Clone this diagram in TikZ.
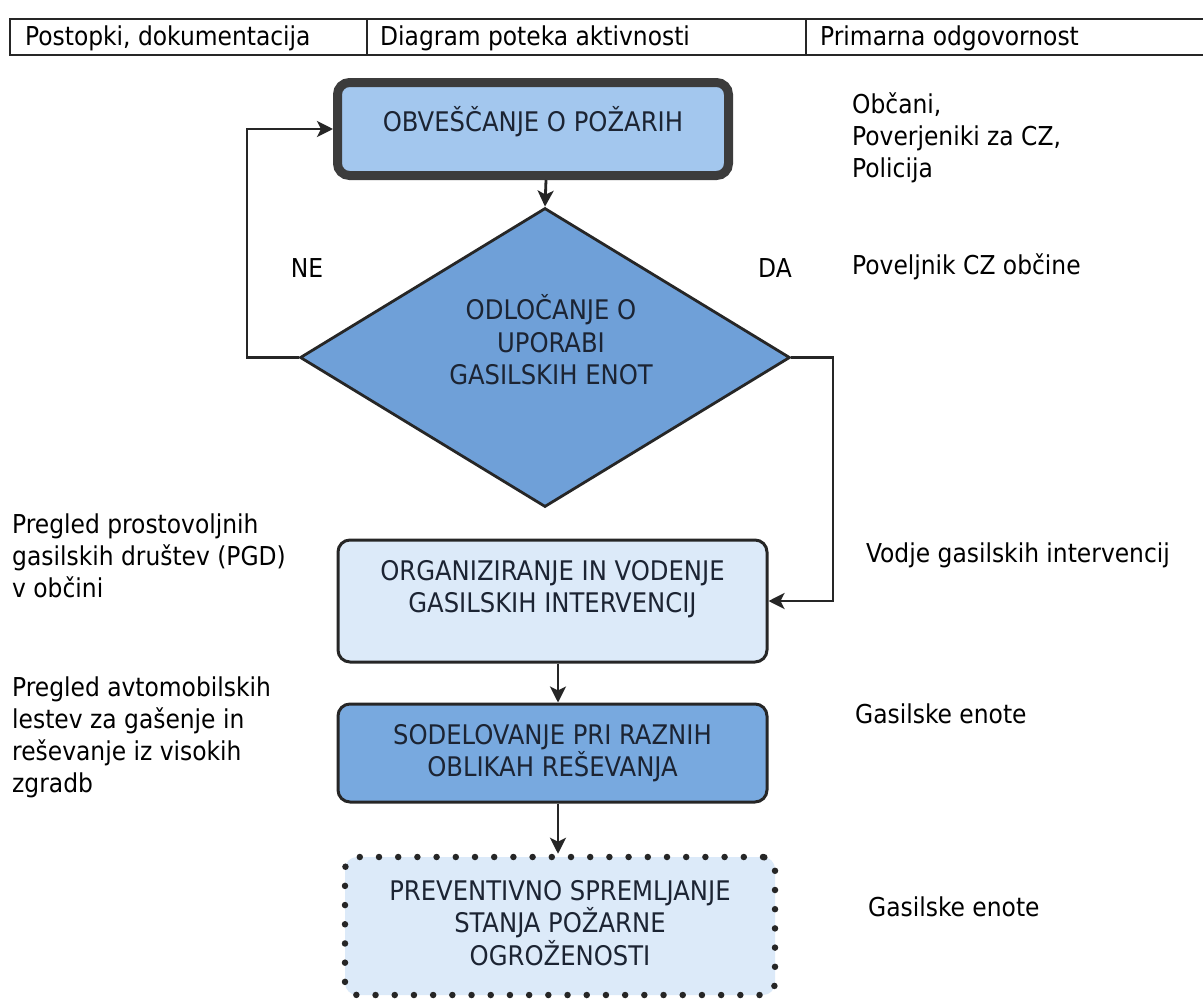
\documentclass[tikz,border=0pt]{standalone}
\usepackage{fontspec}
\setmainfont{DejaVu Sans Condensed}
\usetikzlibrary{shapes.geometric,arrows.meta}
\definecolor{ink}{HTML}{1C2433}
\definecolor{lineclr}{HTML}{262626}
\definecolor{boxA}{HTML}{A3C7EE}
\definecolor{diaA}{HTML}{6FA0D8}
\definecolor{boxB}{HTML}{DCEAF9}
\definecolor{boxC}{HTML}{78A9DF}
\tikzset{
  txt/.style={font=\fontsize{27}{32.5}\selectfont, text=ink, align=center, inner sep=0pt},
  side/.style={font=\fontsize{26}{32}\selectfont, text=black, align=left, inner sep=0pt, anchor=north west},
  hdr/.style={font=\fontsize{26}{30}\selectfont, text=black, inner sep=0pt, anchor=west},
  lbl/.style={font=\fontsize{26}{30}\selectfont, text=black, inner sep=0pt},
  conn/.style={draw=lineclr, line width=2.8pt, -{Stealth[length=16pt,width=16pt,inset=4pt]}},
  shapebox/.style={rectangle, rounded corners=12pt, inner sep=0pt},
}
\begin{document}
\begin{tikzpicture}[x=1pt,y=-1pt]
\useasboundingbox (0,0) rectangle (1203,999);
\fill[white] (0,0) rectangle (1203,999);
% header
\draw[line width=2.8pt, lineclr] (10,19) rectangle (1215,55);
\draw[line width=2.2pt, lineclr] (367,19) -- (367,55);
\draw[line width=2.2pt, lineclr] (806,19) -- (806,55);
\node[hdr] (h1) at (25,38) {Postopki, dokumentacija};
\node[hdr] (h2) at (380,38) {Diagram poteka aktivnosti};
\node[hdr] (h3) at (820,38) {Primarna odgovornost};
% boxes
\node[shapebox, draw=lineclr!90, line width=9pt, fill=boxA, minimum width=391pt, minimum height=93pt] (b1) at (533,129) {};
\node[txt] (b1t) at (533,122) {OBVEŠČANJE O POŽARIH};
\node[diamond, draw=lineclr, line width=2.8pt, fill=diaA, minimum width=490pt, minimum height=299pt, inner sep=0pt] (d) at (545,357.5) {};
\node[txt] (dt) at (551,340) {ODLOČANJE O\\UPORABI\\GASILSKIH ENOT};
\node[shapebox, draw=lineclr, line width=3pt, fill=boxB, minimum width=429pt, minimum height=122pt] (b2) at (552.5,601) {};
\node[txt] (b2t) at (552.5,589) {ORGANIZIRANJE IN VODENJE\\GASILSKIH INTERVENCIJ};
\node[shapebox, draw=lineclr, line width=3pt, fill=boxC, minimum width=429pt, minimum height=98pt] (b3) at (552.5,753) {};
\node[txt] (b3t) at (552.5,753) {SODELOVANJE PRI RAZNIH\\OBLIKAH REŠEVANJA};
\node[shapebox, draw=lineclr, line width=6.5pt, dash pattern=on 0pt off 19.2pt, line cap=round, fill=boxB, minimum width=430pt, minimum height=138pt] (b4) at (560,926) {};
\node[txt] (b4t) at (560,923) {PREVENTIVNO SPREMLJANJE\\STANJA POŽARNE\\OGROŽENOSTI};
% connectors
\coordinate (lc) at (247,357.5);
\coordinate (rc) at (833,357.5);
\draw[conn] (b1.south -| 546,0) -- (d.north);
\draw[conn] (d.west) -- (lc) |- (b1.west);
\draw[conn] (d.east) -- (rc) |- (b2.east);
\draw[conn] (b2.south -| 558,0) -- (b3.north -| 558,0);
\draw[conn] (b3.south -| 558,0) -- (b4.north -| 558,0);
% labels
\node[lbl] (ne) at (307,268) {NE};
\node[lbl] (da) at (775,268) {DA};
\node[side] (r1) at (852,93) {Občani,\\Poverjeniki za CZ,\\Policija};
\node[side] (r2) at (852,254) {Poveljnik CZ občine};
\node[side] (r3) at (866,543) {Vodje gasilskih intervencij};
\node[side] (r4) at (855,704) {Gasilske enote};
\node[side] (r5) at (868,897) {Gasilske enote};
\node[side] (l1) at (12,514) {Pregled prostovoljnih\\gasilskih društev (PGD)\\v občini};
\node[side] (l2) at (12,677) {Pregled avtomobilskih\\lestev za gašenje in\\reševanje iz visokih\\zgradb};
\end{tikzpicture}
\end{document}
